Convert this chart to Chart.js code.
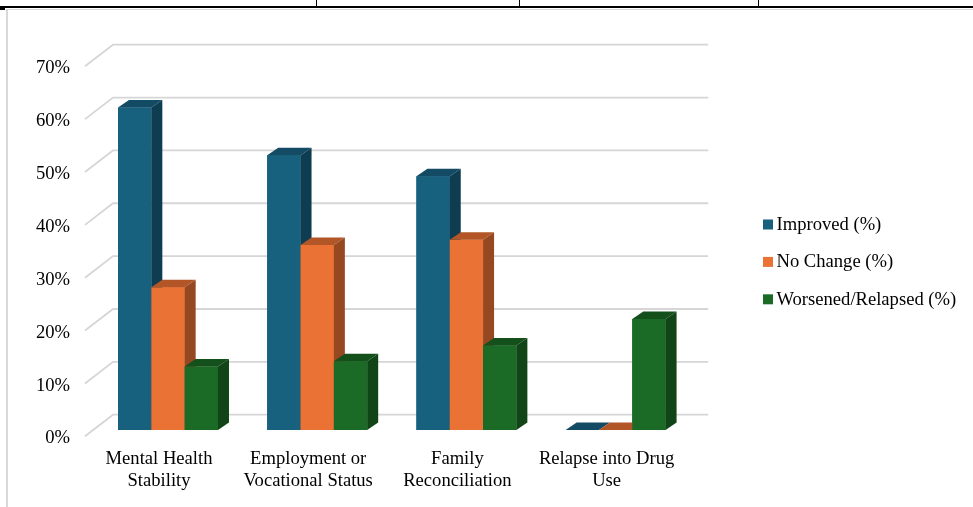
<!DOCTYPE html>
<html><head><meta charset="utf-8">
<script src="https://cdn.jsdelivr.net/npm/chart.js@4.4.1/dist/chart.umd.min.js"></script>
<style>
html,body{margin:0;padding:0;background:#fff;}
#wrap{position:relative;width:973px;height:507px;overflow:hidden;background:#fff;}
#c{position:absolute;left:0;top:0;}
.ln{position:absolute;}
</style></head><body>
<div id="wrap">
<canvas id="c" width="973" height="507"></canvas>
<div class="ln" style="left:0;top:6px;width:973px;height:2px;background:#000"></div>
<div class="ln" style="left:316px;top:0;width:1px;height:7px;background:#000"></div>
<div class="ln" style="left:519px;top:0;width:1px;height:7px;background:#000"></div>
<div class="ln" style="left:758px;top:0;width:1px;height:7px;background:#000"></div>
<div class="ln" style="left:0;top:8px;width:5px;height:2px;background:#000"></div>
<div class="ln" style="left:6px;top:9px;width:967px;height:1px;background:#d9d9d9"></div>
<div class="ln" style="left:6px;top:9px;width:2px;height:498px;background:#d9d9d9"></div>
</div>
<script>
const categories = [["Mental Health","Stability"],["Employment or","Vocational Status"],["Family","Reconciliation"],["Relapse into Drug","Use"]];
const seriesNames = ["Improved (%)","No Change (%)","Worsened/Relapsed (%)"];
const improved = [61, 52, 48, 0];
const noChange = [27, 35, 36, 0];
const worsened = [12, 13, 16, 21];
const yTickValues = [0, 10, 20, 30, 40, 50, 60, 70];

const frontColors = ["#17607e", "#e97234", "#1b6b26"];
const topColors   = ["#134b64", "#b25628", "#14501c"];
const sideColors  = ["#0e3c50", "#964820", "#114417"];

const FONT = "'Liberation Serif','Times New Roman',serif";
const FS = 18.6;
const DX = 11, DY = -7.5;

const wallPlugin = {
  id: 'wall',
  beforeDatasetsDraw(chart) {
    const ctx = chart.ctx, y = chart.scales.y, a = chart.chartArea;
    ctx.save();
    ctx.strokeStyle = '#d6d6d6';
    ctx.lineWidth = 1.8;
    yTickValues.forEach(v => {
      const py = y.getPixelForValue(v);
      ctx.beginPath();
      ctx.moveTo(a.left - 8.4, py + 6.3);
      ctx.lineTo(a.left + 19.6, py - 15.3);
      ctx.lineTo(a.right + 18, py - 15.3);
      ctx.stroke();
    });
    ctx.restore();
  },
  afterDatasetsDraw(chart) {
    const ctx = chart.ctx;
    const n = chart.data.labels.length;
    ctx.save();
    for (let j = 0; j < n; j++) {
      chart.data.datasets.forEach((ds, i) => {
        const el = chart.getDatasetMeta(i).data[j];
        const l = el.x - el.width / 2, r = el.x + el.width / 2;
        const t = el.y, b = el.base;
        ctx.fillStyle = frontColors[i];
        ctx.fillRect(l, t, r - l, b - t);
        ctx.fillStyle = topColors[i];
        ctx.beginPath();
        ctx.moveTo(l, t); ctx.lineTo(r, t); ctx.lineTo(r + DX, t + DY); ctx.lineTo(l + DX, t + DY);
        ctx.closePath(); ctx.fill();
        ctx.fillStyle = sideColors[i];
        ctx.beginPath();
        ctx.moveTo(r, t); ctx.lineTo(r + DX, t + DY); ctx.lineTo(r + DX, b + DY); ctx.lineTo(r, b);
        ctx.closePath(); ctx.fill();
      });
    }
    ctx.restore();
  },
  afterDraw(chart) {
    const ctx = chart.ctx;
    ctx.save();
    ctx.font = FS + "px " + FONT;
    ctx.textBaseline = 'alphabetic';
    ctx.textAlign = 'left';
    const tops = [219.5, 256.9, 294.3];
    chart.data.datasets.forEach((ds, i) => {
      ctx.fillStyle = frontColors[i];
      ctx.fillRect(763, tops[i], 10, 10);
      ctx.fillStyle = '#000';
      ctx.fillText(ds.label, 776.5, tops[i] + 10.5);
    });
    ctx.restore();
  }
};

new Chart(document.getElementById('c'), {
  type: 'bar',
  data: {
    labels: categories,
    datasets: [
      { label: seriesNames[0], data: improved, backgroundColor: frontColors[0] },
      { label: seriesNames[1], data: noChange, backgroundColor: frontColors[1] },
      { label: seriesNames[2], data: worsened, backgroundColor: frontColors[2] }
    ]
  },
  options: {
    responsive: false,
    animation: false,
    devicePixelRatio: 1,
    layout: { padding: { top: 60, bottom: 0, left: 0, right: 282.8 } },
    datasets: { bar: { barPercentage: 1, categoryPercentage: 0.67, borderWidth: 0 } },
    plugins: { legend: { display: false }, tooltip: { enabled: false } },
    scales: {
      x: {
        grid: { display: false, drawTicks: false },
        border: { display: false },
        afterFit(s) { s.height = 77; },
        ticks: {
          color: '#000', padding: 18, labelOffset: -9, maxRotation: 0, autoSkip: false,
          font: { family: FONT, size: FS, lineHeight: 1.19 }
        }
      },
      y: {
        min: 0, max: 70,
        grid: { display: false, drawTicks: false },
        border: { display: false },
        afterFit(s) { s.width = 93.4; },
        afterBuildTicks(s) { s.ticks = yTickValues.map(v => ({ value: v })); },
        ticks: {
          color: '#000', padding: 23.4, labelOffset: 8.5,
          font: { family: FONT, size: FS },
          callback: v => v + '%'
        }
      }
    }
  },
  plugins: [wallPlugin]
});
</script>
</body></html>
